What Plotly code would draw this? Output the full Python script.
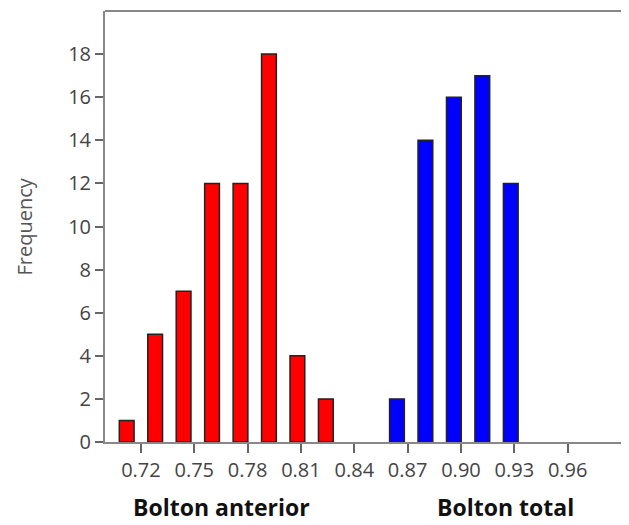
import plotly.graph_objects as go

# Data
anterior_bins = [0.712, 0.728, 0.744, 0.760, 0.776, 0.792, 0.808, 0.824]
anterior_freq = [1, 5, 7, 12, 12, 18, 4, 2]
total_bins = [0.864, 0.880, 0.896, 0.912, 0.928]
total_freq = [2, 14, 16, 17, 12]
x_ticks = [0.72, 0.75, 0.78, 0.81, 0.84, 0.87, 0.90, 0.93, 0.96]
x_tick_labels = ["0.72", "0.75", "0.78", "0.81", "0.84", "0.87", "0.90", "0.93", "0.96"]
y_ticks = [0, 2, 4, 6, 8, 10, 12, 14, 16, 18]

BAR_W = 0.0083
FONT = "Open Sans"

fig = go.Figure()
fig.add_trace(go.Bar(x=anterior_bins, y=anterior_freq, width=BAR_W,
                     marker=dict(color="#ff0000", line=dict(color="#222222", width=1.5)),
                     name="Bolton anterior"))
fig.add_trace(go.Bar(x=total_bins, y=total_freq, width=BAR_W,
                     marker=dict(color="#0000ff", line=dict(color="#222222", width=1.5)),
                     name="Bolton total"))

# page body has an 8px margin, so the figure is 8px smaller than the window
fig.update_layout(
    width=621, height=517,
    margin=dict(l=97, r=0, t=3, b=83, autoexpand=False),
    plot_bgcolor="white", paper_bgcolor="white",
    showlegend=False,
    font=dict(family=FONT, color="#444444", size=20),
    xaxis=dict(range=[0.6998, 0.9945], tickvals=x_ticks, ticktext=x_tick_labels,
               showgrid=False, zeroline=False, showline=True, linecolor="#888888", linewidth=2,
               ticks="outside", ticklen=9, tickwidth=2, tickcolor="#666666",
               tickfont=dict(size=20, color="#444444")),
    yaxis=dict(range=[0, 20], tickvals=y_ticks, showgrid=False, zeroline=False,
               showline=True, linecolor="#888888", linewidth=2,
               ticks="outside", ticklen=8, tickwidth=2, tickcolor="#666666",
               tickfont=dict(size=20, color="#444444")),
    shapes=[dict(type="line", xref="paper", yref="paper", x0=0, x1=1, y0=1, y1=1,
                 line=dict(color="#888888", width=2))],
    annotations=[
        dict(text="Frequency", xref="paper", yref="paper", x=0, y=0.5, xshift=-81,
             xanchor="center", yanchor="middle",
             textangle=-90, showarrow=False, font=dict(size=20, color="#555555")),
        dict(text="<b>Bolton anterior</b>", xref="paper", yref="paper", x=0.2214, y=0,
             xanchor="center", yanchor="middle",
             yshift=-65, showarrow=False, font=dict(size=23, color="#111111")),
        dict(text="<b>Bolton total</b>", xref="paper", yref="paper", x=0.765, y=0,
             xanchor="center", yanchor="middle",
             yshift=-65, showarrow=False, font=dict(size=23, color="#111111")),
    ],
)

fig.write_html("out.html")
